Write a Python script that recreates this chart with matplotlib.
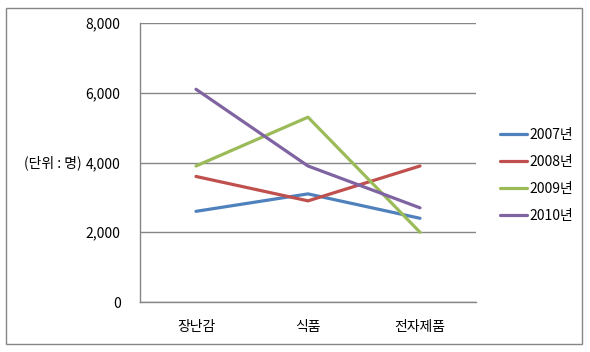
import matplotlib.pyplot as plt
from matplotlib.patches import Rectangle

plt.rcParams['font.family'] = ['Noto Sans CJK KR', 'DejaVu Sans']

categories = ["장난감", "식품", "전자제품"]
series_names = ["2007년", "2008년", "2009년", "2010년"]
v2007 = [2600, 3100, 2400]
v2008 = [3600, 2900, 3900]
v2009 = [3900, 5300, 2000]
v2010 = [6100, 3900, 2700]
yticks = [0, 2000, 4000, 6000, 8000]

colors = ["#4F81BD", "#C0504D", "#9BBB59", "#8064A2"]
grid_c = "#868686"

fig = plt.figure(figsize=(5.9, 3.52), dpi=100)
ax = fig.add_axes([140/590, 1-302/352, 336/590, 279/352])

x = range(len(categories))
for vals, name, c in zip([v2007, v2008, v2009, v2010], series_names, colors):
    ax.plot(x, vals, color=c, lw=2.3, label=name, solid_capstyle='round')

ax.set_xlim(-0.5, 2.5)
ax.set_ylim(0, 8000)
ax.set_yticks(yticks)
ax.set_yticklabels([f"{v:,}" for v in yticks])
ax.set_xticks(list(x))
ax.set_xticklabels(categories)
ax.tick_params(axis='y', length=0, pad=14, labelsize=10)
ax.tick_params(axis='x', length=0, pad=13, labelsize=10)
ax.grid(axis='y', color=grid_c, lw=1)
ax.set_axisbelow(True)
for s in ['top', 'right']:
    ax.spines[s].set_visible(False)
for s in ['left', 'bottom']:
    ax.spines[s].set_color(grid_c)
    ax.spines[s].set_linewidth(1)

fig.text(24/590, 1-163/352, "(단위 : 명)", fontsize=10, va='center', ha='left')

leg = fig.legend(loc='center left', bbox_to_anchor=(487/590, 1-175.5/352),
                 frameon=False, fontsize=10, handlelength=2.0, handletextpad=0.15,
                 labelspacing=0.95)

fig.patches.append(Rectangle((6/590, 1-344/352), 576/590, 336/352,
                             transform=fig.transFigure, fill=False,
                             edgecolor=grid_c, lw=1))

fig.savefig("out.png", dpi=100)
